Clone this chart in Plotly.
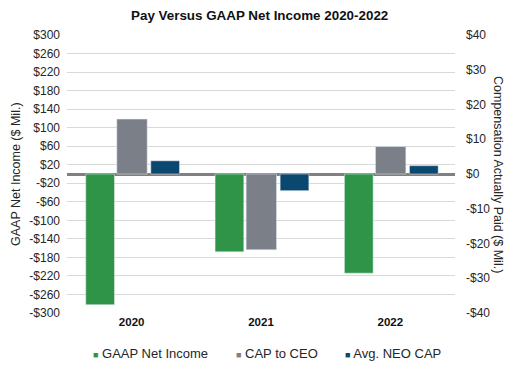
import plotly.graph_objects as go

years = ["2020", "2021", "2022"]
gaap_net_income = [-282, -168, -214]      # $ Mil., left axis
cap_to_ceo = [15.8, -21.8, 7.9]           # $ Mil., right axis
avg_neo_cap = [3.8, -4.8, 2.4]            # $ Mil., right axis
series_names = ["GAAP Net Income", "CAP to CEO", "Avg. NEO CAP"]

left_ticks = list(range(-300, 301, 40))
right_ticks = list(range(-40, 41, 10))


def money(v):
    return ("-$" if v < 0 else "$") + str(abs(v))


GREEN = "#2F9447"
GRAY = "#7B7F87"
NAVY = "#0B4870"
COLORS = [GREEN, GRAY, NAVY]
FONT = "Liberation Sans, Arial, sans-serif"

# the page places the figure 8px in from the top-left corner of the window
OFF = 8
W, H = 518 - OFF, 372 - OFF
# plot area in window pixels: x 67..455, y 35..313
ML, MR = 67 - OFF, 518 - 455
MT, MB = 35 - OFF, 372 - 313
PW, PH = W - ML - MR, H - MT - MB


def px(x):  # window pixel -> paper
    return (x - OFF - ML) / PW


def py(y):  # window pixel -> paper
    return (H - MB - (y - OFF)) / PH


fig = go.Figure()
fig.add_trace(go.Bar(x=years, y=gaap_net_income, name=series_names[0],
                     marker_color=GREEN, width=0.222, offset=-0.355, yaxis="y"))
fig.add_trace(go.Bar(x=years, y=cap_to_ceo, name=series_names[1],
                     marker_color=GRAY, width=0.235, offset=-0.115, yaxis="y2"))
fig.add_trace(go.Bar(x=years, y=avg_neo_cap, name=series_names[2],
                     marker_color=NAVY, width=0.222, offset=0.148, yaxis="y2"))

annotations = [
    dict(text="GAAP Net Income ($ Mil.)", textangle=-90, x=px(16), y=py(174),
         xref="paper", yref="paper", xanchor="center", yanchor="middle",
         showarrow=False, font=dict(size=12.5, color="#262626")),
    dict(text="Compensation Actually Paid ($ Mil.)", textangle=90, x=px(498), y=py(174),
         xref="paper", yref="paper", xanchor="center", yanchor="middle",
         showarrow=False, font=dict(size=12.5, color="#262626")),
    dict(text="<b>Pay Versus GAAP Net Income 2020-2022</b>", x=px(259), y=py(15),
         xref="paper", yref="paper", xanchor="center", yanchor="middle",
         showarrow=False, font=dict(size=13.4, color="#111111")),
]
# legend drawn as text entries
legend_x = [91, 234, 343]
for name, color, lx in zip(series_names, COLORS, legend_x):
    annotations.append(dict(
        text='<span style="color:%s;font-size:9px">■</span> %s' % (color, name),
        x=px(lx), y=py(353), xref="paper", yref="paper", xanchor="left",
        yanchor="middle", showarrow=False,
        font=dict(size=13, color="#262626")))

fig.update_layout(
    width=W, height=H,
    margin=dict(l=ML, r=MR, t=MT, b=MB),
    paper_bgcolor="white", plot_bgcolor="white",
    font=dict(family=FONT, size=12, color="#262626"),
    barmode="overlay",
    showlegend=False,
    xaxis=dict(type="category", showgrid=False, showline=False, ticks="",
               tickfont=dict(size=11.5, color="#111111"),
               tickvals=years, ticktext=["<b>%s</b>" % y for y in years]),
    yaxis=dict(range=[-300, 300], tickvals=left_ticks,
               ticktext=[money(v) for v in left_ticks],
               showgrid=True, gridcolor="#D9D9D9", gridwidth=1,
               zeroline=True, zerolinecolor="#808080", zerolinewidth=2.5,
               showline=False, ticks="", ticklabelstandoff=6,
               tickfont=dict(size=12, color="#262626")),
    yaxis2=dict(range=[-40, 40], tickvals=right_ticks,
                ticktext=[money(v) for v in right_ticks],
                overlaying="y", side="right", showgrid=False, zeroline=False,
                showline=False, ticks="", ticklabelstandoff=10,
                tickfont=dict(size=12, color="#262626")),
    annotations=annotations,
)

fig.write_html("out.html")
